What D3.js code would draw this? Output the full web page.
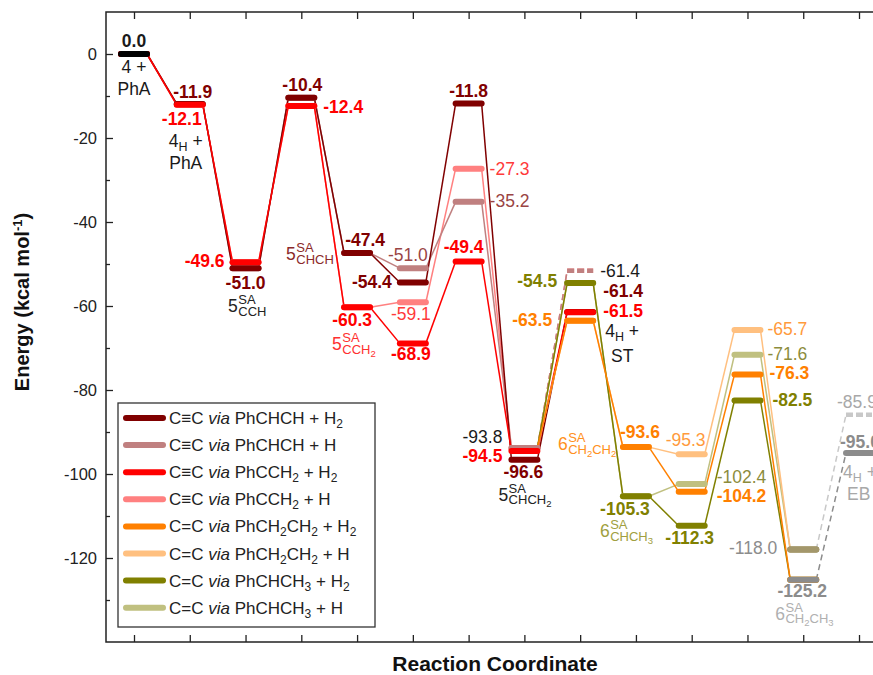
<!DOCTYPE html>
<html><head><meta charset="utf-8">
<script src="https://cdn.jsdelivr.net/npm/d3@7"></script>
<style>
body{margin:0;background:#fff}
svg{display:block}
text{font-family:"Liberation Sans",Arial,Helvetica,sans-serif}
</style>
</head><body>
<svg id="chart" width="873" height="675"></svg>
<script>
// ================= DATA =================
const steps = d3.range(14);                       // reaction-coordinate positions
const yTickValues = [0, -20, -40, -60, -80, -100, -120];
const yMinorTickValues = [-10, -30, -50, -70, -90, -110, -130];

const seriesKeys = ["PhCHCH_H2","PhCHCH_H","PhCCH2_H2","PhCCH2_H",
                    "PhCH2CH2_H2","PhCH2CH2_H","PhCHCH3_H2","PhCHCH3_H"];
const legendLabels = [
  "C≡C *via* PhCHCH + H_{2}",
  "C≡C *via* PhCHCH + H",
  "C≡C *via* PhCCH_{2} + H_{2}",
  "C≡C *via* PhCCH_{2} + H",
  "C=C *via* PhCH_{2}CH_{2} + H_{2}",
  "C=C *via* PhCH_{2}CH_{2} + H",
  "C=C *via* PhCHCH_{3} + H_{2}",
  "C=C *via* PhCHCH_{3} + H"
];

// alkyne pathways (start at step 0)
const ePhCHCH_H2  = [0.0, -11.9, -51.0, -10.4, -47.4, -54.4, -11.8, -96.6, -61.4];
const ePhCHCH_H   = [0.0, -11.9, -51.0, -10.4, -47.4, -51.0, -35.2, -93.8, -51.6];
const ePhCCH2_H2  = [0.0, -12.1, -49.6, -12.4, -60.3, -68.9, -49.4, -94.5, -61.5];
const ePhCCH2_H   = [0.0, -12.1, -49.6, -12.4, -60.3, -59.1, -27.3, -93.8, -51.6];
// alkene pathways (start at step 8, branching from step 7)
const alkeneOriginStep = 7, alkeneOriginEnergy = -93.8;
const ePhCH2CH2_H2 = [-63.5, -93.6, -104.2, -76.3, -125.2];
const ePhCH2CH2_H  = [-63.5, -93.6,  -95.3, -65.7, -118.0];
const ePhCHCH3_H2  = [-54.5, -105.3, -112.3, -82.5, -125.2];
const ePhCHCH3_H   = [-54.5, -105.3, -102.4, -71.6, -118.0];
// product release (step 12 -> 13)
const eEB_H2 = [-125.2, -95.0];
const eEB_H  = [-118.0, -85.9];
const eStart = [0.0];

// ================= STYLE / LAYOUT =================
const col = {
  PhCHCH_H2:"#800000", PhCHCH_H:"#c08080", PhCCH2_H2:"#ff0000", PhCCH2_H:"#ff8080",
  PhCH2CH2_H2:"#ff8000", PhCH2CH2_H:"#ffc080", PhCHCH3_H2:"#808000", PhCHCH3_H:"#c0c080",
  EB_H2:"#8c8c8c", EB_H:"#c8c8c8", start:"#000000"
};
const txt = {
  black:"#1a1a1a", darkred:"#800000", red:"#ff0000", rosy:"#9a4444", pink:"#ff3a3a",
  orange:"#ff8000", lorange:"#ff9a3c", olive:"#808000", lolive:"#8c8c3c",
  gray:"#8c8c8c", lgray:"#a8a8a8"
};

const series = [
  {key:"PhCCH2_H",   start:0, e:ePhCCH2_H,   dashedSteps:[7]},
  {key:"PhCHCH_H",   start:0, e:ePhCHCH_H,   dashedSteps:[7]},
  {key:"PhCHCH_H2",  start:0, e:ePhCHCH_H2,  dashedSteps:[]},
  {key:"PhCCH2_H2",  start:0, e:ePhCCH2_H2,  dashedSteps:[]},
  {key:"PhCHCH3_H",  start:8, e:ePhCHCH3_H,  dashedSteps:[], origin:true},
  {key:"PhCH2CH2_H", start:8, e:ePhCH2CH2_H, dashedSteps:[], origin:true},
  {key:"PhCHCH3_H2", start:8, e:ePhCHCH3_H2, dashedSteps:[], origin:true},
  {key:"PhCH2CH2_H2",start:8, e:ePhCH2CH2_H2,dashedSteps:[], origin:true},
  {key:"EB_H",       start:12, e:eEB_H,      dashedSteps:[12]},
  {key:"EB_H2",      start:12, e:eEB_H2,     dashedSteps:[12]},
  {key:"start",      start:0, e:eStart,      dashedSteps:[]}
];
const dashedLevels = [[8, -51.6], [13, -85.9]];
const barColorOverride = {"12:-118": "#a3976b"};

// value labels: [step, energy, text, bold, color, anchor, dx, dy]
const valueLabels = [
  [0, 0.0, "0.0", 1, "black", "middle", 0, -7],
  [1, -11.9, "-11.9", 1, "darkred", "middle", 3, -6],
  [1, -12.1, "-12.1", 1, "red", "middle", -8, 20],
  [2, -49.6, "-49.6", 1, "red", "end", -21, 5],
  [2, -51.0, "-51.0", 1, "darkred", "middle", 0, 21],
  [3, -10.4, "-10.4", 1, "darkred", "middle", 1, -7],
  [3, -12.4, "-12.4", 1, "red", "start", 22, 7],
  [4, -47.4, "-47.4", 1, "darkred", "middle", 8, -7],
  [4, -60.3, "-60.3", 1, "red", "middle", -5, 19],
  [5, -51.0, "-51.0", 0, "rosy", "middle", -5, -7],
  [5, -54.4, "-54.4", 1, "darkred", "end", -21, 6],
  [5, -59.1, "-59.1", 0, "pink", "middle", -2, 18],
  [5, -68.9, "-68.9", 1, "red", "middle", -2, 17],
  [6, -11.8, "-11.8", 1, "darkred", "middle", 0, -7],
  [6, -27.3, "-27.3", 0, "pink", "start", 21, 6],
  [6, -35.2, "-35.2", 0, "rosy", "start", 21, 5],
  [6, -49.4, "-49.4", 1, "red", "middle", -5, -8],
  [7, -93.8, "-93.8", 0, "black", "end", -22, -5],
  [7, -94.5, "-94.5", 1, "red", "end", -22, 11],
  [7, -96.6, "-96.6", 1, "darkred", "middle", -1, 18],
  [8, -51.6, "-61.4", 0, "black", "start", 20, 6],
  [8, -54.5, "-54.5", 1, "olive", "end", -23, 4],
  [8, -61.4, "-61.4", 1, "darkred", "start", 23, -15],
  [8, -61.5, "-61.5", 1, "red", "start", 23, 5],
  [8, -63.5, "-63.5", 1, "orange", "end", -28, 5],
  [9, -93.6, "-93.6", 1, "orange", "middle", 4, -9],
  [9, -105.3, "-105.3", 1, "olive", "middle", -11, 19],
  [10, -95.3, "-95.3", 0, "lorange", "start", -26, -8],
  [10, -102.4, "-102.4", 0, "lolive", "start", 25, -1],
  [10, -104.2, "-104.2", 1, "orange", "start", 25, 10],
  [10, -112.3, "-112.3", 1, "olive", "middle", -2, 18],
  [11, -65.7, "-65.7", 0, "lorange", "start", 20, 5],
  [11, -71.6, "-71.6", 0, "lolive", "start", 20, 5],
  [11, -76.3, "-76.3", 1, "orange", "start", 22, 5],
  [11, -82.5, "-82.5", 1, "olive", "start", 25, 5],
  [12, -118.0, "-118.0", 0, "gray", "end", -26, 4],
  [12, -125.2, "-125.2", 1, "gray", "middle", -1, 17],
  [13, -85.9, "-85.9", 0, "lgray", "start", -22, -7],
  [13, -95.0, "-95.0", 1, "gray", "start", -19, -5]
];
// species labels: [step, energy, text, color, anchor, dx, dy]
const speciesLabels = [
  [0, 0.0, "4 +", "black", "middle", 0, 19],
  [0, 0.0, "PhA", "black", "middle", 0, 41],
  [1, -12.1, "4_{H} +", "black", "middle", -4, 42],
  [1, -12.1, "PhA", "black", "middle", -4, 64],
  [8, -61.5, "4_{H} +", "black", "start", 25, 25],
  [8, -61.5, "ST", "black", "middle", 42, 50],
  [13, -95.0, "4_{H} +", "lgray", "start", -16, 25],
  [13, -95.0, "EB", "lgray", "start", -12, 47]
];
// intermediate labels: [step, energy, base, sup, sub, color, dx, dy]
const intermediateLabels = [
  [2, -51.0, "5", "SA", "CCH", "#222222", -17.5, 44],
  [4, -47.4, "5", "SA", "CHCH", "#8b2a2a", -71, 7],
  [4, -60.3, "5", "SA", "CCH2", "#ff3030", -25, 43],
  [7, -96.6, "5", "SA", "CHCH2", "#222222", -26, 41],
  [9, -93.6, "6", "SA", "CH2CH2", "#ff9020", -78, 3],
  [9, -105.3, "6", "SA", "CHCH3", "#a0a040", -36, 41],
  [12, -125.2, "6", "SA", "CH2CH3", "#b0b0b0", -28, 40]
];

// ================= DRAW =================
const svg = d3.select("#chart");
const x = d3.scaleLinear().domain([0, 13]).range([134, 134 + 13 * 55.77]);
const y = d3.scaleLinear().domain([-140, 10]).range([642, 12]);
const frame = {left:106, right:960, top:12, bottom:642};
const halfBar = 13;
const FS = 17.5;

function rich(textSel, str, small) {
  const parts = str.split(/(\*[^*]+\*|_\{[^}]+\}|\^\{[^}]+\})/).filter(s => s.length);
  let shift = 0;
  parts.forEach(p => {
    let t = p, dy = 0, fs = null, it = false;
    if (p.startsWith("*")) { t = p.slice(1, -1); it = true; }
    else if (p.startsWith("_{")) { t = p.slice(2, -1); dy = 4; fs = small; }
    else if (p.startsWith("^{")) { t = p.slice(2, -1); dy = -7; fs = small; }
    const ts = textSel.append("tspan").text(t).attr("dy", dy - shift);
    shift = dy;
    if (fs) ts.attr("font-size", fs);
    if (it) ts.attr("font-style", "italic");
  });
}

// axes
const yAxis = d3.axisLeft(y).tickValues(yTickValues).tickSize(-7).tickPadding(9)
  .tickFormat(d => String(d));
const gy = svg.append("g").attr("transform", `translate(${frame.left},0)`).call(yAxis);
gy.select(".domain").remove();
gy.selectAll("text").attr("font-size", 16.5).attr("fill", "#222").attr("font-family", '"Liberation Sans",Arial,sans-serif');
gy.selectAll("line").attr("stroke", "#222").attr("stroke-width", 1.3);
const gyMinor = svg.append("g").attr("transform", `translate(${frame.left},0)`)
  .call(d3.axisLeft(y).tickValues(yMinorTickValues).tickSize(-4).tickFormat(""));
gyMinor.select(".domain").remove();
gyMinor.selectAll("line").attr("stroke", "#222").attr("stroke-width", 1.3);
const gxb = svg.append("g").attr("transform", `translate(0,${frame.bottom})`)
  .call(d3.axisBottom(x).tickValues(steps).tickSize(-7).tickFormat(""));
gxb.select(".domain").remove();
gxb.selectAll("line").attr("stroke", "#222").attr("stroke-width", 1.3);
const gxt = svg.append("g").attr("transform", `translate(0,${frame.top})`)
  .call(d3.axisTop(x).tickValues(steps).tickSize(-7).tickFormat(""));
gxt.select(".domain").remove();
gxt.selectAll("line").attr("stroke", "#222").attr("stroke-width", 1.3);
svg.append("path")
  .attr("d", `M${frame.right},${frame.top}H${frame.left}V${frame.bottom}H${frame.right}`)
  .attr("fill", "none").attr("stroke", "#222").attr("stroke-width", 1.5);

// axis titles
svg.append("text").attr("x", 495).attr("y", 671).attr("text-anchor", "middle")
  .attr("font-size", 21).attr("font-weight", "bold").attr("fill", "#111").text("Reaction Coordinate");
const yt = svg.append("text").attr("transform", "translate(29,302) rotate(-90)")
  .attr("text-anchor", "middle").attr("font-size", 20).attr("font-weight", "bold").attr("fill", "#111");
rich(yt, "Energy (kcal mol^{-1})", 13);

// connectors
const gConn = svg.append("g").attr("fill", "none");
series.forEach(s => {
  const pts = s.e.map((v, i) => [s.start + i, v]);
  if (s.origin) pts.unshift([alkeneOriginStep, alkeneOriginEnergy]);
  for (let i = 0; i < pts.length - 1; i++) {
    const [s0, v0] = pts[i], [s1, v1] = pts[i + 1];
    const dashed = s.dashedSteps.includes(s0);
    gConn.append("line")
      .attr("x1", x(s0) + halfBar).attr("y1", y(v0))
      .attr("x2", x(s1) - halfBar).attr("y2", y(v1))
      .attr("stroke", col[s.key]).attr("stroke-width", 1.5)
      .attr("stroke-dasharray", dashed ? "6,4" : null);
  }
});

// energy level bars
const gBars = svg.append("g");
series.forEach(s => {
  s.e.forEach((v, i) => {
    const st = s.start + i;
    const dashed = dashedLevels.some(d => d[0] === st && d[1] === v);
    const c = barColorOverride[st + ":" + v] || col[s.key];
    gBars.append("line")
      .attr("x1", x(st) - halfBar).attr("x2", x(st) + halfBar)
      .attr("y1", y(v)).attr("y2", y(v))
      .attr("stroke", c).attr("stroke-width", dashed ? 4.5 : 6)
      .attr("stroke-linecap", dashed ? "butt" : "round")
      .attr("stroke-dasharray", dashed ? "7,3" : null);
  });
});

// value labels
const gLab = svg.append("g");
valueLabels.forEach(([st, v, t, b, c, a, dx, dy]) => {
  gLab.append("text").attr("x", x(st) + dx).attr("y", y(v) + dy)
    .attr("text-anchor", a).attr("font-size", FS)
    .attr("font-weight", b ? "bold" : "normal").attr("fill", txt[c]).text(t);
});
speciesLabels.forEach(([st, v, t, c, a, dx, dy]) => {
  const tx = gLab.append("text").attr("x", x(st) + dx).attr("y", y(v) + dy)
    .attr("text-anchor", a).attr("font-size", FS).attr("fill", txt[c]);
  rich(tx, t, 12.5);
});
intermediateLabels.forEach(([st, v, base, sup, sub, c, dx, dy]) => {
  const x0 = x(st) + dx, y0 = y(v) + dy;
  const g = gLab.append("g").attr("fill", c);
  const bt = g.append("text").attr("x", x0).attr("y", y0).attr("font-size", 17.5).text(base);
  const w = bt.node().getComputedTextLength();
  g.append("text").attr("x", x0 + w + 0.5).attr("y", y0 - 8).attr("font-size", 13).text(sup);
  const st2 = g.append("text").attr("x", x0 + w + 0.5).attr("y", y0 + 3.5).attr("font-size", 13);
  let shift = 0;
  sub.split(/(\d)/).filter(p => p.length).forEach(p => {
    const isNum = /\d/.test(p);
    const dy2 = isNum ? 3 : 0;
    const ts = st2.append("tspan").text(p).attr("dy", dy2 - shift);
    if (isNum) ts.attr("font-size", 9.5);
    shift = dy2;
  });
});

// legend
const gLeg = svg.append("g");
gLeg.append("rect").attr("x", 118).attr("y", 403).attr("width", 257).attr("height", 224)
  .attr("fill", "#fff").attr("stroke", "#333").attr("stroke-width", 1.3);
seriesKeys.forEach((k, i) => {
  const yy = 418 + i * 27.1;
  gLeg.append("line").attr("x1", 126).attr("x2", 163).attr("y1", yy).attr("y2", yy)
    .attr("stroke", col[k]).attr("stroke-width", 6).attr("stroke-linecap", "round");
  const t = gLeg.append("text").attr("x", 169).attr("y", yy + 6).attr("font-size", 17).attr("fill", "#222");
  rich(t, legendLabels[i], 12);
});
</script>
</body></html>
